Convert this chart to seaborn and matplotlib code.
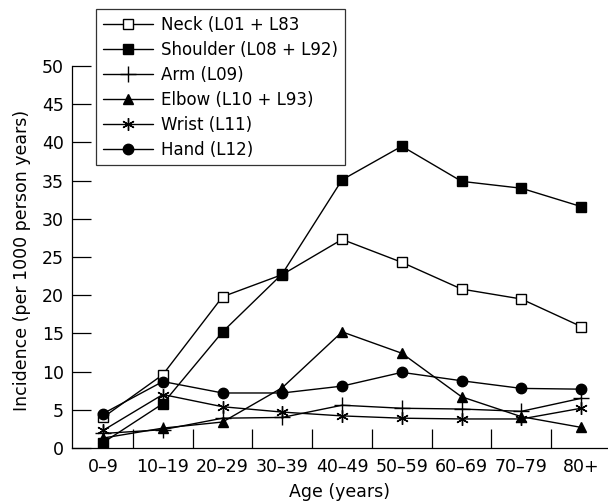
import pandas as pd
import seaborn as sns
import matplotlib.pyplot as plt

sns.set_style("white")
plt.rcParams['font.family'] = ['DejaVu Sans']
plt.rcParams['text.color'] = 'black'
plt.rcParams['axes.labelcolor'] = 'black'
plt.rcParams['xtick.color'] = 'black'
plt.rcParams['ytick.color'] = 'black'

ages = ["0–9", "10–19", "20–29", "30–39", "40–49", "50–59", "60–69", "70–79", "80+"]

neck = [4.0, 9.6, 19.8, 22.7, 27.3, 24.3, 20.8, 19.5, 15.9]
shoulder = [0.7, 5.8, 15.2, 22.8, 35.1, 39.5, 34.9, 34.0, 31.6]
arm = [1.9, 2.4, 3.9, 4.0, 5.6, 5.2, 5.1, 4.8, 6.5]
elbow = [1.3, 2.6, 3.4, 7.9, 15.2, 12.4, 6.7, 4.1, 2.7]
wrist = [2.3, 7.0, 5.4, 4.7, 4.2, 3.9, 3.8, 3.8, 5.2]
hand = [4.5, 8.7, 7.2, 7.2, 8.1, 9.9, 8.8, 7.8, 7.7]

labels = ["Neck (L01 + L83", "Shoulder (L08 + L92)", "Arm (L09)",
          "Elbow (L10 + L93)", "Wrist (L11)", "Hand (L12)"]

series = [neck, shoulder, arm, elbow, wrist, hand]
markers = ["s", "s", "+", "^", (6, 2, 0), "o"]
faces = ["white", "black", "black", "black", "black", "black"]
sizes = [6.5, 6.5, 12, 7, 9, 7.5]

fig = plt.figure(figsize=(6.08, 5.01), dpi=100)
ax = fig.add_axes([0.1184, 0.1058, 0.8816, 0.7625])

for vals, lab, m, fc, ms in zip(series, labels, markers, faces, sizes):
    df = pd.DataFrame({"age": ages, "val": vals})
    sns.lineplot(data=df, x="age", y="val", ax=ax, color="black", lw=1.0,
                 marker=m, markersize=ms, markerfacecolor=fc,
                 markeredgecolor="black", markeredgewidth=1.0, label=lab)

ax.set_xlim(-0.52, 8.45)
ax.set_ylim(0, 50)
ax.set_yticks(range(0, 51, 5))
ax.set_xticks(range(len(ages)))
ax.set_xticklabels(ages)
ax.set_xticks([i + 0.5 for i in range(len(ages) - 1)], minor=True)
ax.tick_params(axis="x", which="major", bottom=True, length=0, pad=7, labelsize=12.5)
ax.tick_params(axis="x", which="minor", bottom=True, direction="in", length=14, width=0.9)
ax.tick_params(axis="y", left=True, direction="in", length=14, width=0.9, pad=6, labelsize=12.5)

for s in ["top", "right"]:
    ax.spines[s].set_visible(False)
for s in ["left", "bottom"]:
    ax.spines[s].set_linewidth(0.9)
    ax.spines[s].set_color("black")

ax.set_xlabel("Age (years)", fontsize=12.5, labelpad=5)
ax.set_ylabel("Incidence (per 1000 person years)", fontsize=12.5)
ax.yaxis.set_label_coords(-0.077, 0.49)

leg = ax.legend(loc="upper left", bbox_to_anchor=(96 / 608, 1 - 9 / 501),
                bbox_transform=fig.transFigure, frameon=True, fancybox=False,
                edgecolor="black", fontsize=12, handlelength=3.0,
                borderpad=0.4, labelspacing=0.42, handletextpad=0.5,
                borderaxespad=0)
leg.get_frame().set_linewidth(0.9)

fig.savefig("out.png", dpi=100)
